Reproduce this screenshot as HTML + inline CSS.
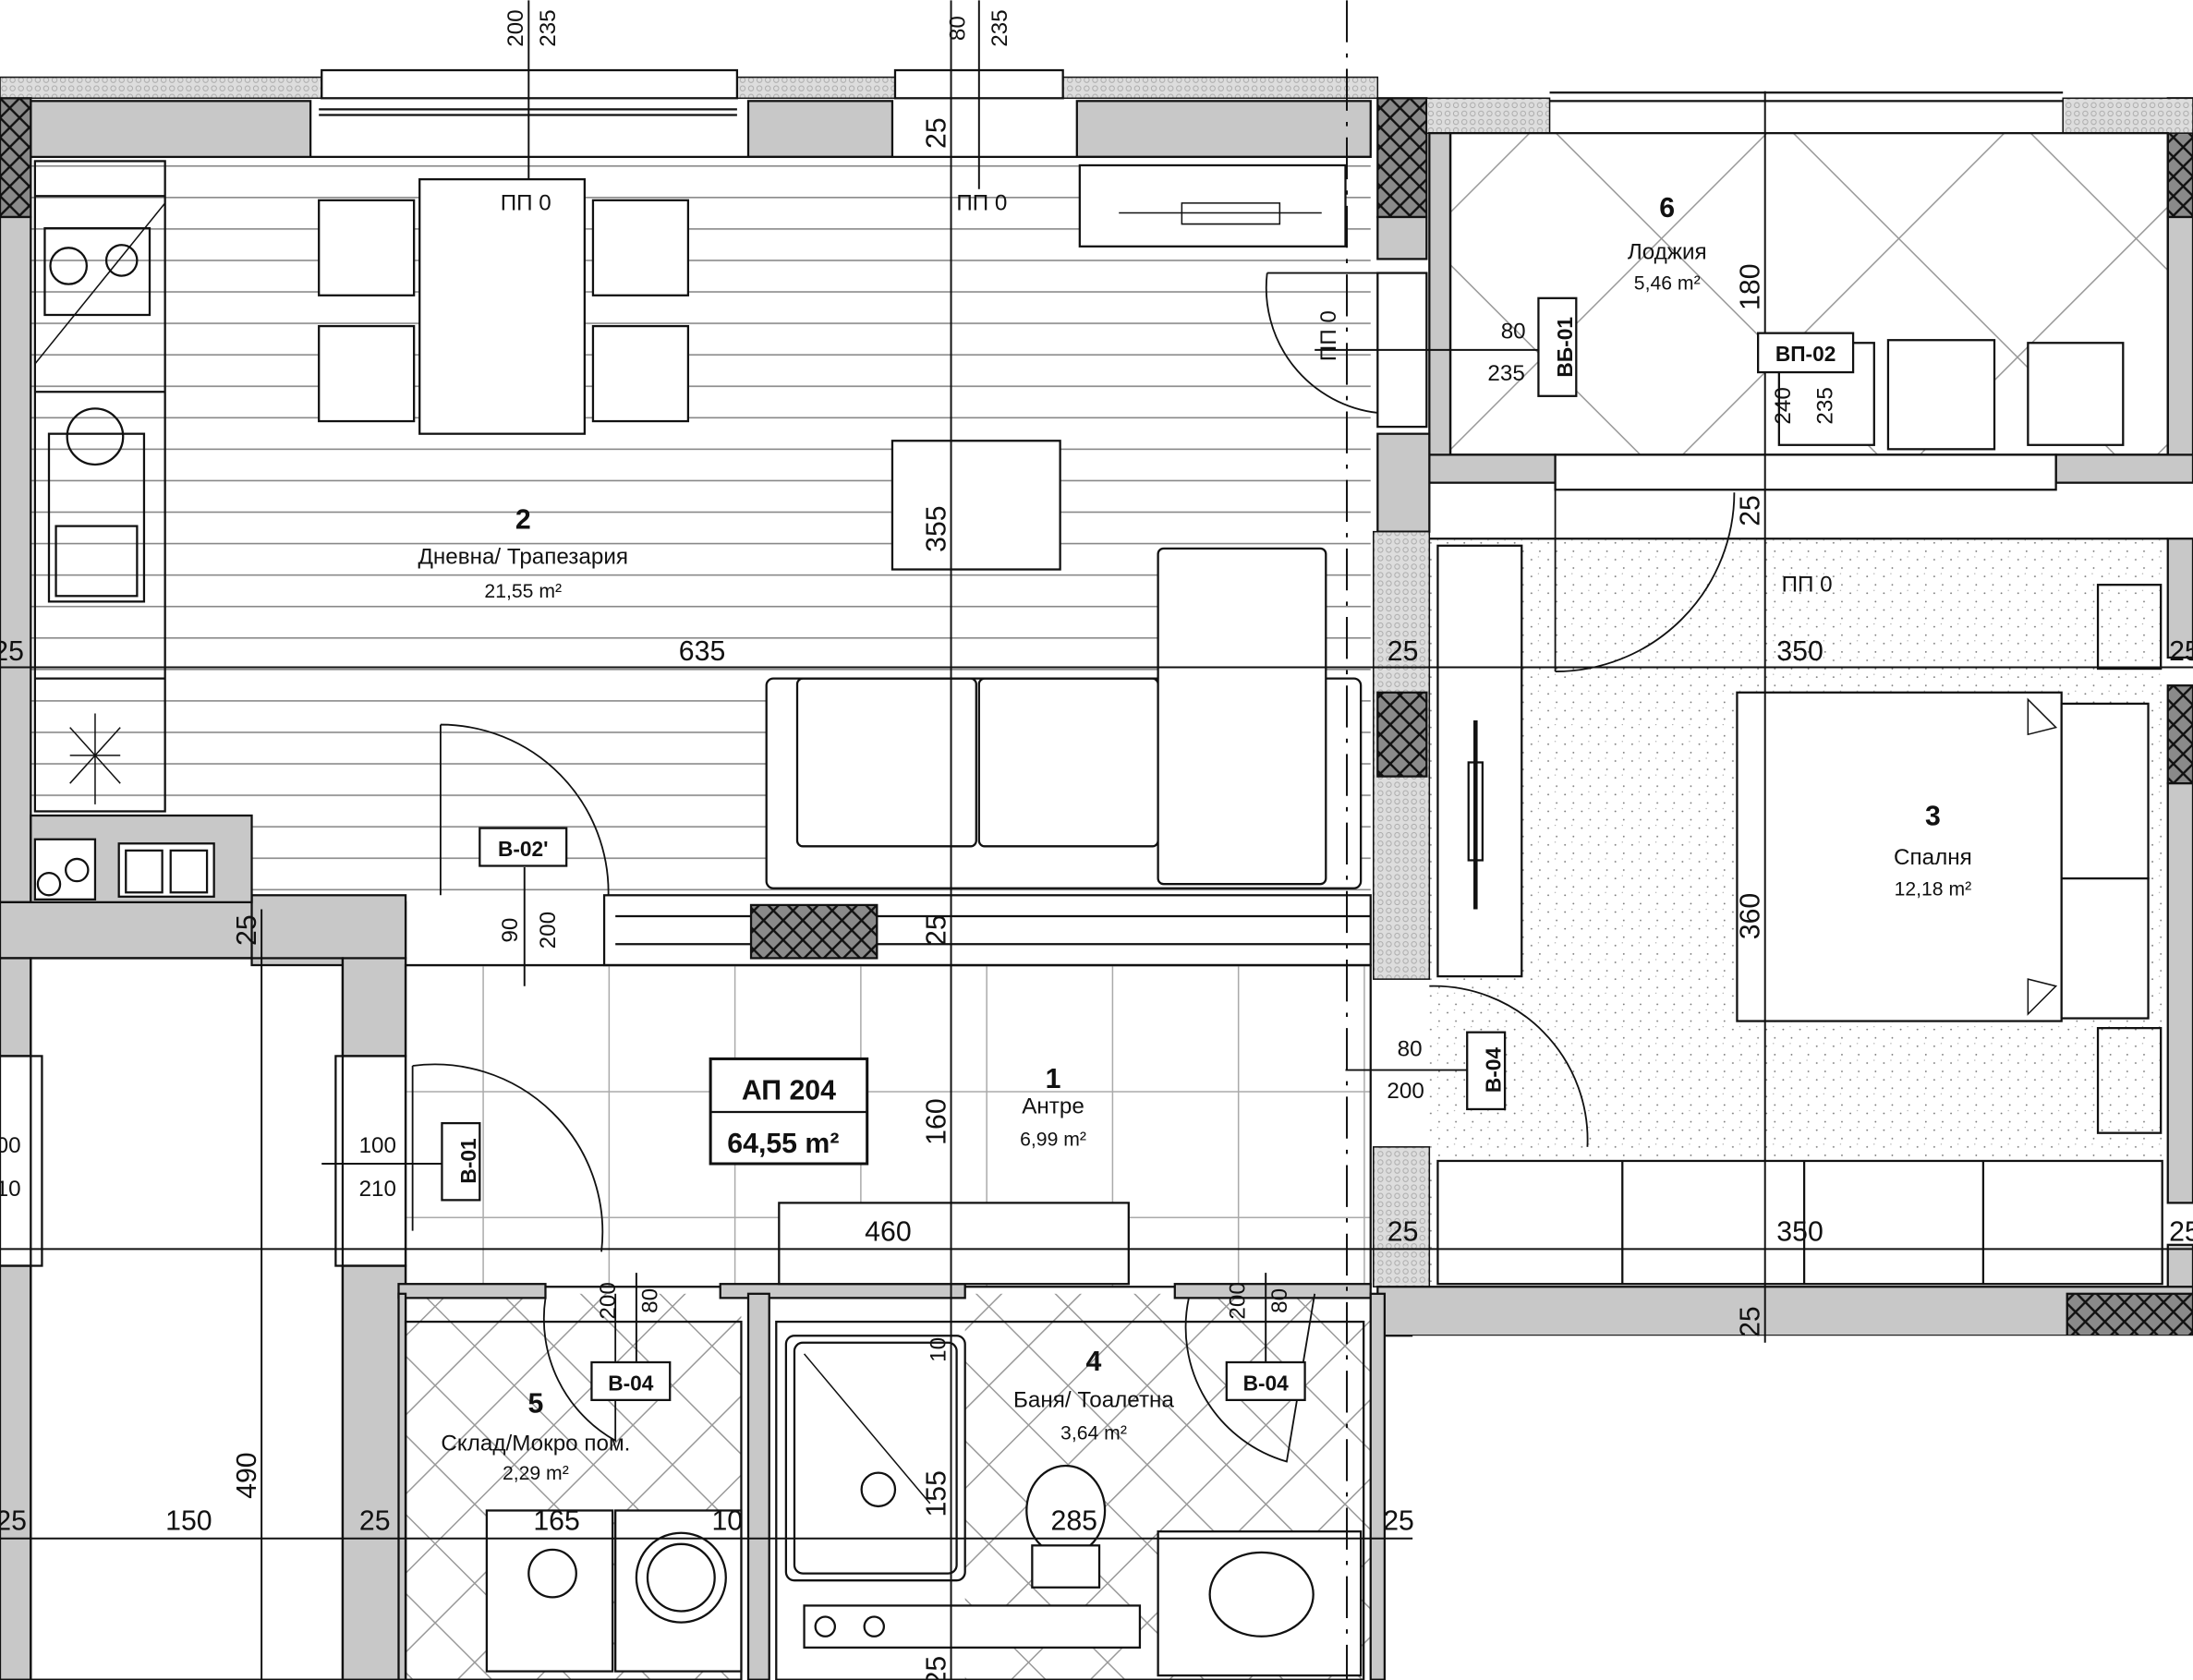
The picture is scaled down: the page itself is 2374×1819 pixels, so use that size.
<!DOCTYPE html>
<html><head><meta charset="utf-8"><style>html,body{margin:0;padding:0;background:#fff}svg{display:block}text{font-family:"Liberation Sans",sans-serif;fill:#111}</style></head><body>
<svg width="2374" height="1819" viewBox="0 0 1568 1201" xmlns="http://www.w3.org/2000/svg">
<defs>
<pattern id="hx" width="14" height="14" patternUnits="userSpaceOnUse"><rect width="14" height="14" fill="#8a8a8a"/><path d="M0 0L14 14M14 0L0 14" stroke="#111" stroke-width="1.6"/></pattern>
<pattern id="fl" width="40" height="22.5" patternUnits="userSpaceOnUse" y="118"><line x1="0" y1="0.5" x2="40" y2="0.5" stroke="#888" stroke-width="1.2"/></pattern>
<pattern id="tile" width="90" height="90" patternUnits="userSpaceOnUse" x="345" y="690"><path d="M0 0.5H90M0.5 0V90" stroke="#aaa" stroke-width="1"/></pattern>
<pattern id="dia" width="120" height="120" patternUnits="userSpaceOnUse" patternTransform="rotate(45)"><path d="M0 0.5H120M0.5 0V120" stroke="#999" stroke-width="1"/></pattern>
<pattern id="dia2" width="40" height="40" patternUnits="userSpaceOnUse" patternTransform="rotate(45)"><path d="M0 0.5H40M0.5 0V40" stroke="#999" stroke-width="1"/></pattern>
<pattern id="dots" width="12" height="12" patternUnits="userSpaceOnUse"><circle cx="3" cy="4" r="0.6" fill="#777"/><circle cx="9" cy="10" r="0.6" fill="#777"/><circle cx="8" cy="2" r="0.4" fill="#999"/></pattern>
<pattern id="ins" width="6" height="6" patternUnits="userSpaceOnUse"><rect width="6" height="6" fill="#ddd"/><circle cx="3" cy="3" r="1.8" fill="none" stroke="#aaa" stroke-width="0.6"/></pattern>
</defs>
<g stroke="#111" stroke-width="1.5" fill="none">
<!-- floors -->
<rect x="22" y="114" width="958" height="528" fill="url(#fl)" stroke="none"/>
<rect x="290" y="690" width="690" height="230" fill="url(#tile)" stroke="none"/>
<rect x="1037" y="95" width="513" height="230" fill="url(#dia)" stroke="none"/>
<rect x="1022" y="385" width="528" height="535" fill="url(#dots)" stroke="none"/>
<rect x="290" y="925" width="240" height="276" fill="url(#dia2)" stroke="none"/>
<rect x="690" y="925" width="290" height="276" fill="url(#dia2)" stroke="none"/>
<!-- top wall -->
<rect x="0" y="55" width="230" height="15" fill="url(#ins)" stroke-width="1"/>
<rect x="527" y="55" width="113" height="15" fill="url(#ins)" stroke-width="1"/>
<rect x="760" y="55" width="225" height="15" fill="url(#ins)" stroke-width="1"/>
<rect x="230" y="50" width="297" height="20" fill="#fff"/><rect x="640" y="50" width="120" height="20" fill="#fff"/>
<rect x="22" y="72" width="200" height="40" fill="#c8c8c8"/>
<rect x="535" y="72" width="103" height="40" fill="#c8c8c8"/>
<rect x="770" y="72" width="210" height="40" fill="#c8c8c8"/>
<line x1="222" y1="112" x2="980" y2="112"/>
<line x1="228" y1="78" x2="527" y2="78"/><line x1="228" y1="82" x2="527" y2="82"/>
<rect x="0" y="70" width="22" height="85" fill="url(#hx)"/>
<rect x="0" y="155" width="22" height="490" fill="#c8c8c8"/>
<!-- right top columns -->
<rect x="985" y="70" width="35" height="85" fill="url(#hx)"/>
<rect x="985" y="155" width="35" height="30" fill="#c8c8c8"/>
<rect x="1550" y="70" width="18" height="85" fill="url(#hx)"/>
<rect x="1020" y="70" width="88" height="25" fill="url(#ins)" stroke-width="1"/>
<rect x="1475" y="70" width="93" height="25" fill="url(#ins)" stroke-width="1"/>
<line x1="1108" y1="66" x2="1475" y2="66"/><line x1="1108" y1="72" x2="1475" y2="72"/>
<rect x="1022" y="95" width="15" height="245" fill="#c8c8c8"/>
<rect x="1550" y="155" width="18" height="185" fill="#c8c8c8"/>
<rect x="1037" y="95" width="513" height="230"/>
<rect x="1022" y="325" width="90" height="20" fill="#c8c8c8"/>
<rect x="1470" y="325" width="98" height="20" fill="#c8c8c8"/>
<rect x="1112" y="325" width="358" height="25" fill="#fff"/>
<rect x="985" y="310" width="37" height="70" fill="#c8c8c8"/>
<rect x="985" y="195" width="35" height="110" fill="#fff"/>
<!-- partition living/bedroom -->
<rect x="982" y="380" width="40" height="320" fill="url(#ins)" stroke-width="1"/>
<rect x="985" y="495" width="35" height="60" fill="url(#hx)"/>
<rect x="982" y="820" width="40" height="100" fill="url(#ins)" stroke-width="1"/>
<line x1="1022" y1="385" x2="1550" y2="385"/>
<rect x="1550" y="385" width="18" height="85" fill="#c8c8c8"/>
<rect x="1550" y="490" width="18" height="70" fill="url(#hx)"/>
<rect x="1550" y="560" width="18" height="300" fill="#c8c8c8"/>
<rect x="1550" y="890" width="18" height="35" fill="#c8c8c8"/>
<rect x="985" y="920" width="583" height="35" fill="#c8c8c8"/>
<rect x="1478" y="925" width="90" height="30" fill="url(#hx)"/>
<rect x="1010" y="955" width="558" height="246" fill="#fff" stroke="none"/>
<!-- left-lower walls -->
<rect x="0" y="645" width="290" height="40" fill="#c8c8c8"/>
<rect x="180" y="640" width="110" height="50" fill="#c8c8c8"/>
<rect x="245" y="685" width="45" height="70" fill="#c8c8c8"/>
<rect x="245" y="905" width="45" height="296" fill="#c8c8c8"/>
<rect x="0" y="685" width="22" height="70" fill="#c8c8c8"/>
<rect x="0" y="905" width="22" height="296" fill="#c8c8c8"/>
<rect x="22" y="685" width="223" height="516"/>
<rect x="0" y="755" width="30" height="150"/>
<rect x="240" y="755" width="50" height="150"/>
<!-- interior partitions -->
<rect x="432" y="640" width="548" height="50" fill="#fff"/>
<line x1="440" y1="655" x2="980" y2="655"/><line x1="440" y1="675" x2="980" y2="675"/>
<rect x="537" y="647" width="90" height="38" fill="url(#hx)"/>
<rect x="290" y="690" width="690" height="230"/>
<rect x="285" y="918" width="105" height="10" fill="#c8c8c8"/>
<rect x="515" y="918" width="175" height="10" fill="#c8c8c8"/>
<rect x="840" y="918" width="140" height="10" fill="#c8c8c8"/>
<rect x="535" y="925" width="15" height="276" fill="#c8c8c8"/>
<rect x="285" y="925" width="5" height="276" fill="#c8c8c8"/>
<rect x="980" y="925" width="10" height="276" fill="#c8c8c8"/>
<rect x="290" y="945" width="240" height="256"/>
<rect x="555" y="945" width="420" height="256"/>
<!-- kitchen -->
<rect x="25" y="115" width="93" height="465"/>
<line x1="25" y1="140" x2="118" y2="140"/><line x1="25" y1="280" x2="118" y2="280"/><line x1="25" y1="485" x2="118" y2="485"/>
<rect x="32" y="163" width="75" height="62"/><circle cx="49" cy="190" r="13"/><circle cx="87" cy="186" r="11"/>
<line x1="25" y1="260" x2="118" y2="145" stroke-width="1"/>
<rect x="35" y="310" width="68" height="120"/><rect x="40" y="376" width="58" height="50"/>
<circle cx="68" cy="312" r="20"/>
<line x1="68" y1="510" x2="68" y2="575" stroke-width="1"/><line x1="50" y1="520" x2="86" y2="560" stroke-width="1"/><line x1="86" y1="520" x2="50" y2="560" stroke-width="1"/><line x1="50" y1="540" x2="86" y2="540" stroke-width="1"/>
<rect x="22" y="583" width="158" height="62" fill="#c8c8c8"/>
<rect x="25" y="600" width="43" height="43" fill="#fff"/><circle cx="35" cy="632" r="8"/><circle cx="55" cy="622" r="8"/>
<rect x="85" y="603" width="68" height="38" fill="#fff"/><rect x="90" y="608" width="26" height="30"/><rect x="122" y="608" width="26" height="30"/>
<!-- dining -->
<rect x="300" y="128" width="118" height="182" fill="#fff"/>
<rect x="228" y="143" width="68" height="68" fill="#fff"/><rect x="228" y="233" width="68" height="68" fill="#fff"/>
<rect x="424" y="143" width="68" height="68" fill="#fff"/><rect x="424" y="233" width="68" height="68" fill="#fff"/>
<rect x="772" y="118" width="190" height="58" fill="#fff"/>
<path d="M800 152H945M845 145H915V160H845Z" stroke-width="1"/>
<rect x="638" y="315" width="120" height="92" fill="#fff"/>
<!-- sofa -->
<rect x="548" y="485" width="425" height="150" rx="5" fill="#fff"/>
<rect x="570" y="485" width="128" height="120" rx="4"/><rect x="700" y="485" width="128" height="120" rx="4"/>
<rect x="828" y="392" width="120" height="240" rx="4" fill="#fff"/>
<!-- bedroom -->
<rect x="1028" y="390" width="60" height="308" fill="#fff"/>
<path d="M1055 515V650" stroke-width="3"/><rect x="1050" y="545" width="10" height="70"/>
<rect x="1242" y="495" width="232" height="235" fill="#fff"/>
<rect x="1474" y="503" width="62" height="125" fill="#fff"/><rect x="1474" y="628" width="62" height="100" fill="#fff"/>
<path d="M1450 500L1470 520L1450 525Z M1450 725L1470 705L1450 700Z" stroke-width="1"/>
<rect x="1500" y="418" width="45" height="60"/><rect x="1500" y="735" width="45" height="75"/>
<rect x="1028" y="830" width="518" height="88" fill="#fff"/>
<line x1="1160" y1="830" x2="1160" y2="918"/><line x1="1290" y1="830" x2="1290" y2="918"/><line x1="1418" y1="830" x2="1418" y2="918"/>
<!-- loggia furniture -->
<rect x="1350" y="243" width="76" height="78" fill="#fff"/>
<rect x="1272" y="245" width="68" height="73" fill="#fff"/><rect x="1450" y="245" width="68" height="73" fill="#fff"/>
<!-- antre -->
<rect x="557" y="860" width="250" height="58" fill="#fff"/>
<!-- bathrooms -->
<rect x="348" y="1080" width="90" height="115" fill="#fff"/><circle cx="395" cy="1125" r="17"/>
<rect x="440" y="1080" width="90" height="115" fill="#fff"/><circle cx="487" cy="1128" r="32"/><circle cx="487" cy="1128" r="24"/>
<rect x="562" y="955" width="128" height="175" rx="6" fill="#fff"/><rect x="568" y="960" width="116" height="165" rx="6"/>
<circle cx="628" cy="1065" r="12"/><line x1="575" y1="968" x2="665" y2="1075" stroke-width="1"/>
<rect x="575" y="1148" width="240" height="30" fill="#fff"/><circle cx="590" cy="1163" r="7"/><circle cx="625" cy="1163" r="7"/>
<ellipse cx="762" cy="1080" rx="28" ry="32" fill="#fff"/><rect x="738" y="1105" width="48" height="30" fill="#fff"/>
<rect x="828" y="1095" width="145" height="103" fill="#fff"/><ellipse cx="902" cy="1140" rx="37" ry="30"/>
<!-- doors -->
<g stroke-width="1.2">
<path d="M315 518V640M315 518A120 120 0 0 1 435 640"/>
<path d="M295 762V880M295 762A120 120 0 0 1 430 895"/>
<path d="M906 195A90 90 0 0 0 985 295M906 195H985"/>
<path d="M1112 345V480M1112 480A128 128 0 0 0 1240 352"/>
<path d="M1022 705A110 110 0 0 1 1135 820"/>
<path d="M390 928A100 100 0 0 0 440 1030L440 925"/>
<path d="M850 928A100 100 0 0 0 920 1045L940 925"/>
</g>
<!-- dimension lines -->
<g stroke-width="1.3">
<line x1="0" y1="477" x2="1568" y2="477"/>
<line x1="0" y1="893" x2="1568" y2="893"/>
<line x1="0" y1="1100" x2="1010" y2="1100"/>
<line x1="680" y1="0" x2="680" y2="1201"/>
<line x1="1262" y1="65" x2="1262" y2="960"/>
<line x1="187" y1="650" x2="187" y2="1201"/>
<line x1="378" y1="0" x2="378" y2="128"/>
<line x1="700" y1="0" x2="700" y2="135"/>
<line x1="963" y1="0" x2="963" y2="1201" stroke-dasharray="30 8 3 8"/>
<line x1="375" y1="620" x2="375" y2="705"/>
<line x1="455" y1="910" x2="455" y2="985"/><line x1="905" y1="910" x2="905" y2="985"/>
<line x1="940" y1="250" x2="1100" y2="250"/><line x1="962" y1="765" x2="1050" y2="765"/>
<line x1="230" y1="832" x2="330" y2="832"/>
</g>
</g>
<!-- tags -->
<g fill="#fff" stroke="#111" stroke-width="1.5">
<rect x="343" y="592" width="62" height="27"/><rect x="316" y="803" width="27" height="55"/>
<rect x="423" y="974" width="56" height="27"/><rect x="877" y="974" width="56" height="27"/>
<rect x="1049" y="738" width="27" height="55"/><rect x="1100" y="213" width="27" height="70"/>
<rect x="1257" y="238" width="68" height="28"/>
<rect x="508" y="757" width="112" height="75" stroke-width="2"/><line x1="508" y1="795" x2="620" y2="795"/>
</g>
<g font-size="16" text-anchor="middle">
<text x="374" y="612" font-size="15" font-weight="bold">В-02'</text>
<text x="451" y="994" font-size="15" font-weight="bold">В-04</text><text x="905" y="994" font-size="15" font-weight="bold">В-04</text>
<text x="1291" y="258" font-size="15" font-weight="bold">ВП-02</text>
<text transform="translate(335 830) rotate(-90)" font-size="15" font-weight="bold" dy="5">В-01</text>
<text transform="translate(1068 765) rotate(-90)" font-size="15" font-weight="bold" dy="5">В-04</text>
<text transform="translate(1119 248) rotate(-90)" font-size="15" font-weight="bold" dy="5">ВБ-01</text>
<text x="564" y="786" font-size="20" font-weight="bold">АП 204</text>
<text x="560" y="824" font-size="20" font-weight="bold">64,55 m²</text>
<text x="374" y="378" font-size="20" font-weight="bold">2</text>
<text x="374" y="403">Дневна/ Трапезария</text><text x="374" y="427" font-size="14">21,55 m²</text>
<text x="1192" y="155" font-size="20" font-weight="bold">6</text><text x="1192" y="185">Лоджия</text><text x="1192" y="207" font-size="14">5,46 m²</text>
<text x="1382" y="590" font-size="20" font-weight="bold">3</text><text x="1382" y="618">Спалня</text><text x="1382" y="640" font-size="14">12,18 m²</text>
<text x="753" y="778" font-size="20" font-weight="bold">1</text><text x="753" y="796">Антре</text><text x="753" y="819" font-size="14">6,99 m²</text>
<text x="782" y="980" font-size="20" font-weight="bold">4</text><text x="782" y="1006">Баня/ Тоалетна</text><text x="782" y="1029" font-size="14">3,64 m²</text>
<text x="383" y="1010" font-size="20" font-weight="bold">5</text><text x="383" y="1037">Склад/Мокро пом.</text><text x="383" y="1058" font-size="14">2,29 m²</text>
<g font-size="20">
<text x="502" y="472">635</text><text x="1287" y="472">350</text><text x="1003" y="472">25</text><text x="6" y="472">25</text><text x="1562" y="472">25</text>
<text x="635" y="887">460</text><text x="1287" y="887">350</text><text x="1003" y="887">25</text><text x="1562" y="887">25</text>
<text x="135" y="1094">150</text><text x="268" y="1094">25</text><text x="8" y="1094">25</text><text x="398" y="1094">165</text><text x="520" y="1094">10</text><text x="768" y="1094">285</text><text x="1000" y="1094">25</text>
</g>
<g font-size="16"><text x="376" y="150">ПП 0</text><text x="702" y="150">ПП 0</text><text x="1292" y="423">ПП 0</text>
<text x="1082" y="242">80</text><text x="1077" y="272">235</text><text x="1008" y="755">80</text><text x="1005" y="785">200</text>
<text x="270" y="824">100</text><text x="270" y="855">210</text><text x="6" y="824">00</text><text x="6" y="855">10</text></g>
<g font-size="20">
<text transform="translate(676 378) rotate(-90)">355</text><text transform="translate(676 802) rotate(-90)">160</text>
<text transform="translate(1258 655) rotate(-90)">360</text><text transform="translate(1258 205) rotate(-90)">180</text>
<text transform="translate(183 1055) rotate(-90)">490</text><text transform="translate(676 1068) rotate(-90)">155</text>
<text transform="translate(676 95) rotate(-90)">25</text><text transform="translate(676 665) rotate(-90)">25</text><text transform="translate(183 665) rotate(-90)">25</text>
<text transform="translate(1258 365) rotate(-90)">25</text><text transform="translate(1258 945) rotate(-90)">25</text><text transform="translate(676 1195) rotate(-90)">25</text>
</g>
<g font-size="16">
<text transform="translate(374 20) rotate(-90)">200</text><text transform="translate(397 20) rotate(-90)">235</text>
<text transform="translate(690 20) rotate(-90)">80</text><text transform="translate(720 20) rotate(-90)">235</text>
<text transform="translate(370 665) rotate(-90)">90</text><text transform="translate(397 665) rotate(-90)">200</text>
<text transform="translate(440 930) rotate(-90)">200</text><text transform="translate(470 930) rotate(-90)">80</text>
<text transform="translate(890 930) rotate(-90)">200</text><text transform="translate(920 930) rotate(-90)">80</text>
<text transform="translate(955 240) rotate(-90)">ПП 0</text>
<text transform="translate(1280 290) rotate(-90)">240</text><text transform="translate(1310 290) rotate(-90)">235</text>
<text transform="translate(676 965) rotate(-90)">10</text>
</g>
</g>
</svg>
</body></html>
